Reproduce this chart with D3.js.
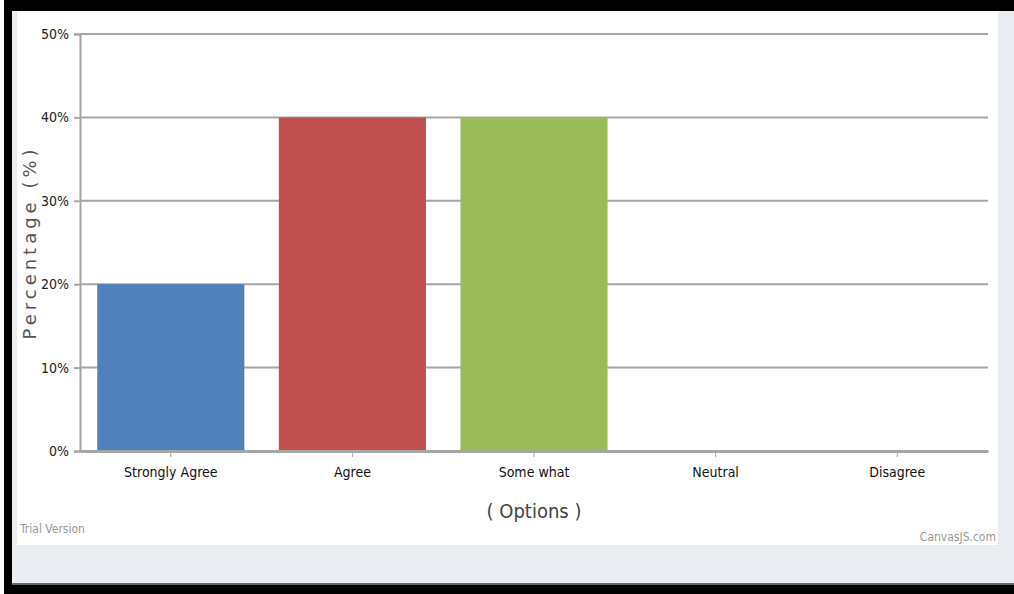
<!DOCTYPE html>
<html>
<head>
<meta charset="utf-8">
<script src="https://cdn.jsdelivr.net/npm/d3@7"></script>
<style>
  body { margin: 0; background: #fff; }
  svg { display: block; }
</style>
</head>
<body>
<svg id="chart" width="1014" height="594"></svg>
<script>
// survey answers, percent of respondents
var categories = ["Strongly Agree", "Agree", "Some what", "Neutral", "Disagree"];
var values = [20, 40, 40, 0, 0];
var barColors = ["#4f81bc", "#c0504e", "#9bbb58", "#23bfaa", "#8064a1"];
var yTicks = [0, 10, 20, 30, 40, 50];

var svg = d3.select("#chart");
var condensed = "'DejaVu Sans Condensed', 'DejaVu Sans', sans-serif";

// frame round the canvas
svg.append("rect").attr("x", 4).attr("y", 0).attr("width", 1010).attr("height", 594).attr("fill", "#000");
svg.append("rect").attr("x", 12).attr("y", 11).attr("width", 1002).attr("height", 574).attr("fill", "#e9ecf1");
svg.append("rect").attr("x", 12).attr("y", 583).attr("width", 1002).attr("height", 2).attr("fill", "#5d6873");
svg.append("rect").attr("x", 17).attr("y", 11).attr("width", 981).attr("height", 534).attr("fill", "#fff");

var plot = { left: 80, right: 988, top: 34, bottom: 451 };

var x = d3.scaleBand()
  .domain(categories)
  .range([plot.left, plot.right])
  .paddingInner(0.19)
  .paddingOuter(0.095);

var y = d3.scaleLinear()
  .domain([0, 50])
  .range([plot.bottom, plot.top]);

// grid lines
svg.append("g").selectAll("line")
  .data(yTicks.filter(d => d > 0))
  .enter().append("line")
    .attr("x1", plot.left)
    .attr("x2", plot.right)
    .attr("y1", d => y(d))
    .attr("y2", d => y(d))
    .attr("stroke", "#a6a6a6")
    .attr("stroke-width", 2);

// bars
svg.append("g").selectAll("rect")
  .data(values)
  .enter().append("rect")
    .attr("x", (d, i) => x(categories[i]))
    .attr("y", d => y(d))
    .attr("width", x.bandwidth())
    .attr("height", d => y(0) - y(d))
    .attr("fill", (d, i) => barColors[i]);

// y axis
var yAxis = d3.axisLeft(y)
  .tickValues(yTicks)
  .tickSize(6)
  .tickPadding(5)
  .tickFormat(d => d + "%");

var yg = svg.append("g")
  .attr("transform", "translate(" + plot.left + ",0)")
  .call(yAxis);
yg.select(".domain").attr("stroke", "#a6a6a6").attr("stroke-width", 2);
yg.selectAll(".tick line").attr("stroke", "#a6a6a6").attr("stroke-width", 2);
yg.selectAll("text")
  .attr("font-family", condensed)
  .attr("font-size", 14)
  .attr("fill", "#222");

// x axis
var xAxis = d3.axisBottom(x)
  .tickSize(6)
  .tickSizeOuter(0)
  .tickPadding(10);

var xg = svg.append("g")
  .attr("transform", "translate(0," + plot.bottom + ")")
  .call(xAxis);
xg.select(".domain").attr("stroke", "#a6a6a6").attr("stroke-width", 3);
xg.selectAll(".tick line").attr("stroke", "#a6a6a6").attr("stroke-width", 1);
xg.selectAll("text")
  .attr("font-family", condensed)
  .attr("font-size", 14)
  .attr("fill", "#111");

// axis titles
svg.append("text")
  .attr("transform", "translate(36," + ((plot.top + plot.bottom) / 2) + ") rotate(-90)")
  .attr("text-anchor", "middle")
  .attr("font-family", "'DejaVu Sans', sans-serif")
  .attr("font-size", 18)
  .attr("letter-spacing", 4)
  .attr("fill", "#555")
  .text("Percentage (%)");

svg.append("text")
  .attr("x", x("Some what") + x.bandwidth() / 2)
  .attr("y", 518)
  .attr("text-anchor", "middle")
  .attr("font-family", condensed)
  .attr("font-size", 20)
  .attr("fill", "#444")
  .text("( Options )");

// watermarks
svg.append("text")
  .attr("x", 20).attr("y", 533)
  .attr("font-family", condensed)
  .attr("font-size", 12)
  .attr("fill", "#999")
  .text("Trial Version");

svg.append("text")
  .attr("x", 996).attr("y", 541)
  .attr("text-anchor", "end")
  .attr("font-family", condensed)
  .attr("font-size", 12)
  .attr("fill", "#999")
  .text("CanvasJS.com");
</script>
</body>
</html>
